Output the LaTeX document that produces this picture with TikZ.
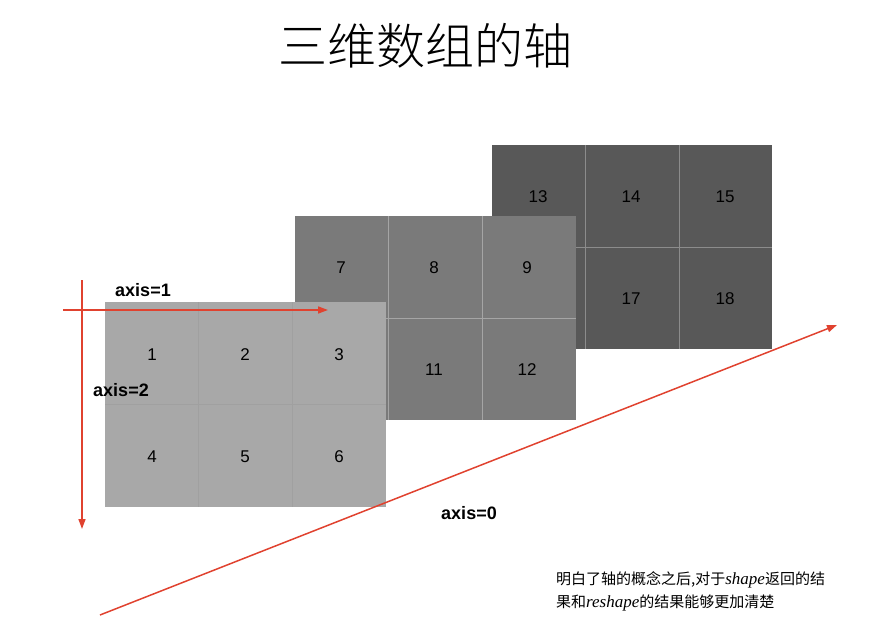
\documentclass[tikz,border=0pt]{standalone}
\usepackage{fontspec}
\setmainfont{Liberation Sans}
\newfontfamily\cjk{Noto Sans CJK SC}
\newfontfamily\cjklight{Noto Sans CJK SC Light}
\newfontfamily\latinit{Liberation Serif}
\usetikzlibrary{arrows.meta}
\definecolor{axred}{HTML}{E0422F}
\newcommand{\lit}[1]{{\latinit\itshape\fontsize{17}{23}\selectfont #1}}
\begin{document}
\begin{tikzpicture}[x=1pt,y=-1pt,
  num/.style={font=\fontsize{17}{17}\selectfont},
  axlab/.style={font=\fontsize{18}{18}\selectfont\bfseries},
  axarrow/.style={draw=axred,line width=1.5pt,-{Triangle[length=10pt,width=7pt]}}]
\useasboundingbox (0,0) rectangle (890,628);
\node (title) at (425,46) {\cjklight\fontsize{49}{49}\selectfont 三维数组的轴};
% back panel
\fill[fill={rgb,255:red,88;green,88;blue,88}] (492,145) rectangle (772,349);
\draw[color={rgb,255:red,140;green,140;blue,140},line width=0.8pt] (585,145)--(585,349) (679,145)--(679,349) (492,247)--(772,247);
\foreach \t/\x/\y in {13/538/197,14/631/197,15/725/197,17/631/299,18/725/299}
  \node[num] (n\t) at (\x,\y) {\t};
% middle panel
\fill[fill={rgb,255:red,122;green,122;blue,122}] (295,216) rectangle (576,420);
\draw[color={rgb,255:red,165;green,165;blue,165},line width=0.8pt] (388,216)--(388,420) (482,216)--(482,420) (295,318)--(576,318);
\foreach \t/\x/\y in {7/341/268,8/434/268,9/527/268,11/434/370,12/527/370}
  \node[num] (n\t) at (\x,\y) {\t};
% front panel
\fill[fill={rgb,255:red,168;green,168;blue,168}] (105,302) rectangle (386,507);
\draw[color={rgb,255:red,160;green,160;blue,160},line width=0.5pt] (198,302)--(198,507) (292,302)--(292,507) (105,404)--(386,404);
\foreach \t/\x/\y in {1/152/355,2/245/355,3/339/355,4/152/457,5/245/457,6/339/457}
  \node[num] (n\t) at (\x,\y) {\t};
% axes
\coordinate (a1s) at (63,310); \coordinate (a1e) at (328,310);
\coordinate (a2s) at (82,280); \coordinate (a2e) at (82,529);
\coordinate (a0s) at (100,615); \coordinate (a0e) at (837,325);
\draw[axarrow] (a1s)--(a1e);
\draw[axarrow] (a2s)--(a2e);
\draw[axarrow] (a0s)--(a0e);
\node[axlab] (l1) at (143,290) {axis=1};
\node[axlab] (l2) at (121,390) {axis=2};
\node[axlab] (l0) at (469,513) {axis=0};
\node[anchor=north west,align=left,inner sep=0pt,font=\cjk\fontsize{15}{23}\selectfont] (cap) at (556,571)
 {明白了轴的概念之后,对于\lit{shape}返回的结\\果和\lit{reshape}的结果能够更加清楚};
\end{tikzpicture}
\end{document}
